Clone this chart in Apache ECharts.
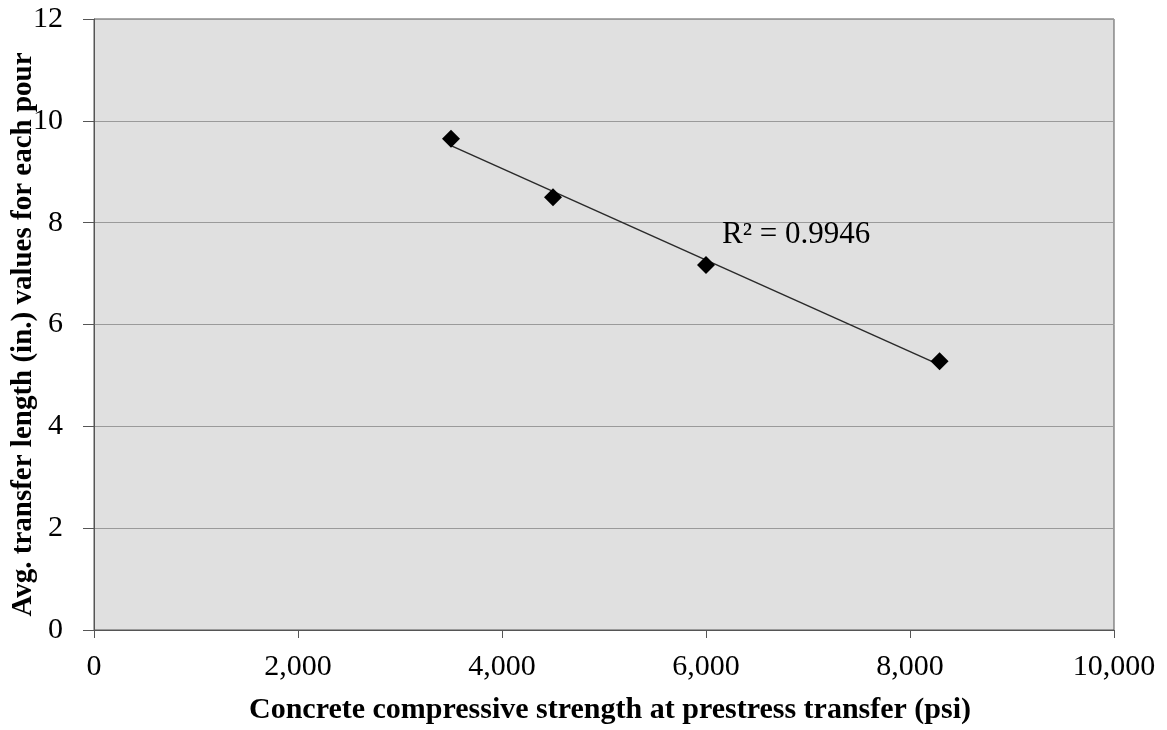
<!DOCTYPE html>
<html>
<head>
<meta charset="utf-8">
<script src="https://cdn.jsdelivr.net/npm/echarts@6/dist/echarts.min.js"></script>
<style>
  html, body { margin: 0; padding: 0; background: #ffffff; }
  #chart { width: 1167px; height: 730px; }
</style>
</head>
<body>
<div id="chart"></div>
<script>
// Average transfer length per pour against concrete strength at release
const strengthPsi = [3500, 4500, 6000, 8290];
const transferLengthIn = [9.65, 8.50, 7.17, 5.28];
const rSquaredText = 'R² = 0.9946';
const xTitle = 'Concrete compressive strength at prestress transfer (psi)';
const yTitle = 'Avg. transfer length (in.) values for each pour';

// Least-squares linear trend through the measured points
function linearFit(xs, ys) {
  const n = xs.length;
  const mx = xs.reduce((a, b) => a + b, 0) / n;
  const my = ys.reduce((a, b) => a + b, 0) / n;
  let sxy = 0, sxx = 0;
  for (let i = 0; i < n; i++) {
    sxy += (xs[i] - mx) * (ys[i] - my);
    sxx += (xs[i] - mx) * (xs[i] - mx);
  }
  const slope = sxy / sxx;
  return { slope, intercept: my - slope * mx };
}
const fit = linearFit(strengthPsi, transferLengthIn);
const xMin = Math.min(...strengthPsi), xMax = Math.max(...strengthPsi);
const trendPoints = [
  [xMin, fit.intercept + fit.slope * xMin],
  [xMax, fit.intercept + fit.slope * xMax]
];

const serif = '"Liberation Serif", "Times New Roman", serif';
const chart = echarts.init(document.getElementById('chart'));
chart.setOption({
  backgroundColor: '#ffffff',
  animation: false,
  grid: {
    left: 94, right: 53, top: 19, bottom: 100,
    containLabel: false, outerBoundsMode: 'none',
    show: true, backgroundColor: '#e0e0e0', borderColor: '#555555', borderWidth: 1
  },
  xAxis: {
    type: 'value', min: 0, max: 10000, interval: 2000,
    name: xTitle, nameLocation: 'middle', nameGap: 65, nameMoveOverlap: false,
    nameTextStyle: {
      fontFamily: serif, fontWeight: 'bold', fontSize: 30, color: '#000',
      padding: [0, 0, 0, 12]
    },
    axisLine: { show: true, lineStyle: { color: '#555555', width: 1 } },
    axisTick: { show: true, inside: false, length: 8, lineStyle: { color: '#555555' } },
    axisLabel: {
      fontFamily: serif, fontSize: 30, color: '#000', margin: 22,
      formatter: v => v.toLocaleString('en-US')
    },
    splitLine: { show: false }
  },
  yAxis: {
    type: 'value', min: 0, max: 12, interval: 2,
    name: yTitle, nameLocation: 'middle', nameGap: 56, nameRotate: 90, nameMoveOverlap: false,
    nameTextStyle: {
      fontFamily: serif, fontWeight: 'bold', fontSize: 29, color: '#000',
      padding: [0, 20, 0, 0]
    },
    axisLine: { show: true, lineStyle: { color: '#555555', width: 1 } },
    axisTick: { show: true, inside: false, length: 11, lineStyle: { color: '#555555' } },
    axisLabel: { fontFamily: serif, fontSize: 30, color: '#000', margin: 31 },
    splitLine: { show: true, lineStyle: { color: '#9a9a9a', width: 1 } }
  },
  series: [
    {
      type: 'line',
      data: trendPoints,
      symbol: 'none',
      lineStyle: { color: '#2a2a2a', width: 1.5 },
      z: 2
    },
    {
      type: 'scatter',
      data: strengthPsi.map((x, i) => [x, transferLengthIn[i]]),
      symbol: 'diamond',
      symbolSize: 18,
      itemStyle: { color: '#000000', opacity: 1 },
      z: 3
    }
  ],
  graphic: [{
    type: 'text',
    left: 722, top: 219,
    style: { text: rSquaredText, fontFamily: serif, fontSize: 31, fill: '#000' },
    z: 10
  }]
});
</script>
</body>
</html>
